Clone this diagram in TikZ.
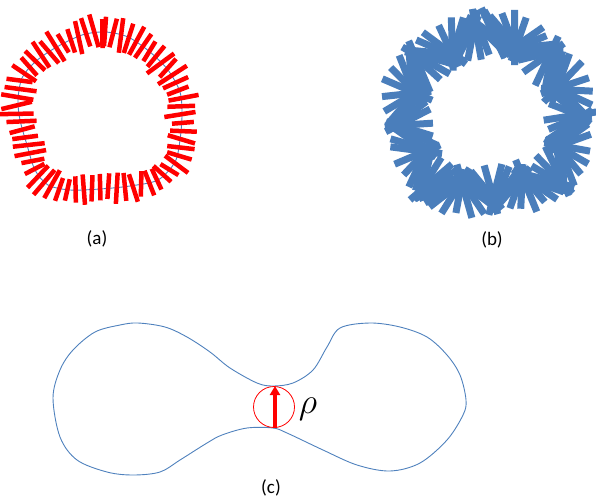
\documentclass[tikz,border=0pt]{standalone}
\usepackage{fontspec}
\setmainfont{Carlito}
\usetikzlibrary{decorations.markings,arrows.meta}
\definecolor{curveblue}{HTML}{4F81BD}
\definecolor{barblue}{HTML}{4A7EBB}
\tikzset{
  thincurve/.style={draw=curveblue,line width=0.9pt},
  redcurve/.style={draw=red,line width=0.8pt},
  abar/.style={draw=red,line width=4.5pt},
  bbar/.style={draw=barblue,line width=7pt},
  lbl/.style={font=\fontsize{19}{22}\selectfont,inner sep=0pt},
  redbars/.style={decoration={markings,
    mark=between positions 0 and 1 step 0.0158 with {
      \pgfmathsetmacro\ang{90+11*rand}
      \pgfmathsetmacro\len{14+3.5*rand}
      \pgfmathsetmacro\off{2.5*rand}
      \draw[abar] (\ang:\len pt) ++(0,\off pt) -- ++(\ang+180:2*\len pt);
    }},postaction={decorate}},
  bluebars/.style={decoration={markings,
    mark=between positions 0 and 1 step 0.0085 with {
      \pgfmathsetmacro\n{\pgfkeysvalueof{/pgf/decoration/mark info/sequence number}}
      \pgfmathsetmacro\ang{90+52*sin(\n*25)+6*rand}
      \pgfmathsetmacro\len{25+3*rand}
      \draw[bbar] (\ang:\len pt) -- (\ang+180:\len pt);
    }},postaction={decorate}}
}
\def\shapeA{(82,35) (105,32) (128,37) (150,52) (168,70) (180,92) (182,115) (180,140) (175,162) (158,180) (130,186) (100,189) (70,190) (48,185) (35,170) (27,145) (20,120) (18,100) (22,78) (35,62) (55,48)}
\begin{document}
\begin{tikzpicture}[x=1pt,y=-1pt]
\useasboundingbox (0,0) rectangle (596,500);
\pgfmathsetseed{7}
% (a)
\draw[thincurve] plot[smooth cycle] coordinates {\shapeA};
\path[redbars] plot[smooth cycle] coordinates {\shapeA};
% (b)
\begin{scope}[shift={(388,1)}]
\draw[redcurve,dash pattern=on 3pt off 4pt] plot[smooth cycle] coordinates {\shapeA};
\path[bluebars] plot[smooth cycle] coordinates {\shapeA};
\end{scope}
\node[lbl] (la) at (97,239) {(a)};
\node[lbl] (lb) at (492,240) {(b)};
% (c)
\draw[thincurve] plot[smooth cycle,tension=0.55] coordinates {
(53,398) (60,370) (73,350) (95,332) (120,325) (138,323) (165,327) (187,337) (210,352) (230,368) (257,383) (273,386) (293,383) (313,370) (327,347) (340,328) (370,323) (400,327) (427,337) (447,355) (460,375) (466,400) (463,415) (447,440) (420,463) (390,471) (357,465) (323,450) (287,433) (273,428) (247,428) (222,435) (207,443) (180,460) (160,472) (133,475) (107,472) (77,460) (60,437)};
\node[draw=red,line width=0.8pt,circle,minimum size=41pt,inner sep=0pt] (circ) at (274,407) {};
\coordinate (abot) at (275,428);
\coordinate (atop) at (275,386);
\draw[red,line width=3.5pt,-{Triangle[length=9pt,width=10pt]}] (abot) -- (atop);
\node[inner sep=0pt,font=\Huge,scale=1.45] (rho) at (308,409) {$\rho$};
\node[lbl] (lc) at (271,488) {(c)};
\end{tikzpicture}
\end{document}
